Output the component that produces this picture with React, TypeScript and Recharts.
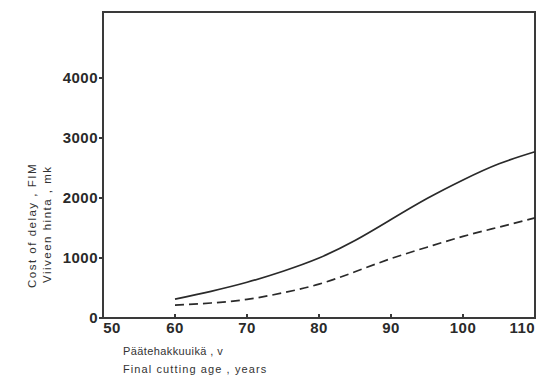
import React from "react";
import { LineChart, Line, XAxis, YAxis, ReferenceArea } from "recharts";

const ages = [60, 65, 70, 75, 80, 85, 90, 95, 100, 105, 110];
const costSolid = [315, 445, 595, 780, 1000, 1290, 1640, 1990, 2300, 2570, 2770];
const costDashed = [215, 250, 310, 420, 565, 770, 990, 1180, 1360, 1515, 1670];
const xTicks = [50, 60, 70, 80, 90, 100, 110];
const yTicks = [0, 1000, 2000, 3000, 4000];

const yTitle = ["Cost of delay , FIM", "Viiveen hinta , mk"];
const xTitle = ["Päätehakkuuikä , v", "Final cutting age , years"];

const data = ages.map((age, i) => ({
  age,
  solid: costSolid[i],
  dashed: costDashed[i],
}));

const ink = "#2a2a2a";
const font = "'Liberation Sans', Arial, sans-serif";

const XTick = (props: any) => {
  const { x, y, payload, index } = props;
  const shift = index === 0 ? 9 : index === xTicks.length - 1 ? -9 : 0;
  return (
    <text
      x={x + shift}
      y={y + 15}
      textAnchor="middle"
      fill={ink}
      fontSize={15}
      fontWeight="bold"
      fontFamily={font}
      letterSpacing={0.5}
    >
      {payload.value}
    </text>
  );
};

export default function App() {
  return (
    <div style={{ position: "absolute", left: 0, top: 0, width: 543, height: 377, background: "#fff" }}>
      <LineChart width={543} height={377} data={data} margin={{ top: 12, right: 8, left: 0, bottom: 0 }}>
        <XAxis
          dataKey="age"
          type="number"
          domain={[50, 110]}
          ticks={xTicks}
          height={59}
          tickSize={-4}
          tickMargin={4}
          stroke="#3a3a3a"
          strokeWidth={2}
          tick={<XTick />}
        />
        <YAxis
          type="number"
          domain={[0, 5100]}
          ticks={yTicks}
          width={103}
          tickSize={4}
          tickMargin={1}
          stroke="#3a3a3a"
          strokeWidth={2}
          tick={{ fill: ink, fontSize: 15, fontWeight: "bold", fontFamily: font, letterSpacing: 0.5 }}
        />
        <ReferenceArea x1={50} x2={110} y1={0} y2={5100} fill="none" stroke="#3a3a3a" strokeWidth={2} />
        <Line type="natural" dataKey="solid" stroke={ink} strokeWidth={1.7} dot={false} isAnimationActive={false} />
        <Line
          type="natural"
          dataKey="dashed"
          stroke={ink}
          strokeWidth={1.7}
          strokeDasharray="9 5"
          dot={false}
          isAnimationActive={false}
        />
      </LineChart>
      <svg
        width={543}
        height={377}
        style={{ position: "absolute", left: 0, top: 0, pointerEvents: "none" }}
      >
        <g fontFamily={font} fontSize={11.5} fill="#333" letterSpacing={1.5}>
          <text transform="translate(36,288) rotate(-90)" textAnchor="start">
            {yTitle[0]}
          </text>
          <text transform="translate(51,283) rotate(-90)" textAnchor="start">
            {yTitle[1]}
          </text>
        </g>
        <g fontFamily={font} fontSize={11} fill="#333">
          <text x={123} y={355} letterSpacing={0.4}>
            {xTitle[0]}
          </text>
          <text x={123} y={373} letterSpacing={1.1}>
            {xTitle[1]}
          </text>
        </g>
      </svg>
    </div>
  );
}
